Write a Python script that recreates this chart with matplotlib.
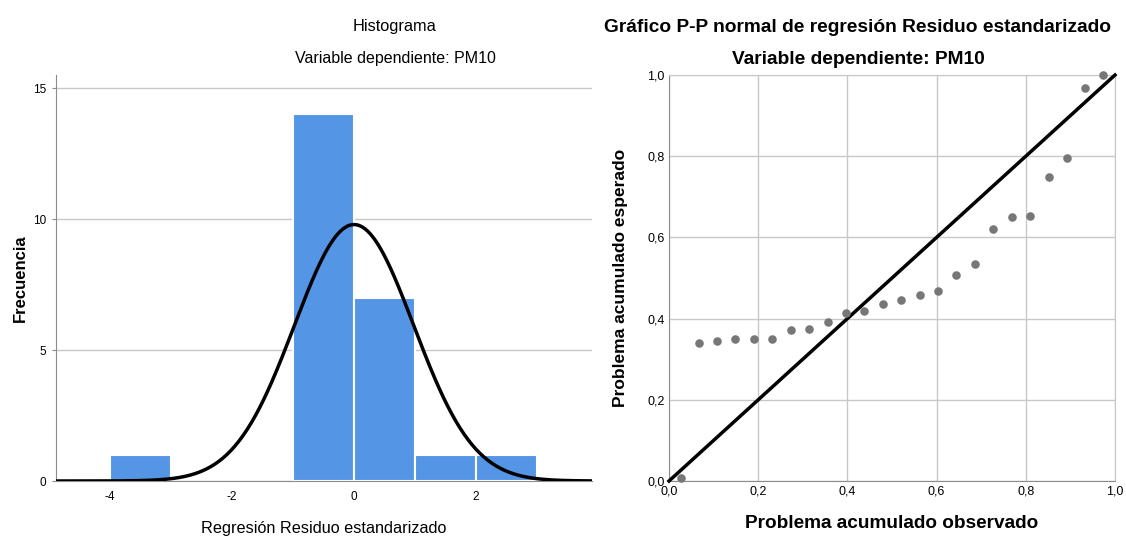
import numpy as np
import matplotlib
matplotlib.use("Agg")
import matplotlib.pyplot as plt

plt.rcParams['font.family'] = ['Liberation Sans', 'DejaVu Sans']
plt.rcParams['axes.unicode_minus'] = False

# --- histograma de residuos ---
bin_left = [-4, -1, 0, 1, 2]
bin_count = [1, 14, 7, 1, 1]
bin_width = 1.0
res_mean = 0.0
res_sd = 0.978
n_obs = 24

# --- gráfico P-P ---
pp_observed = [0.026, 0.067, 0.108, 0.149, 0.191, 0.232, 0.273, 0.314,
               0.356, 0.397, 0.438, 0.479, 0.521, 0.562, 0.603, 0.644,
               0.686, 0.727, 0.768, 0.809, 0.851, 0.892, 0.933, 0.974]
pp_expected = [0.008, 0.341, 0.346, 0.349, 0.349, 0.349, 0.373, 0.375,
               0.391, 0.414, 0.418, 0.435, 0.445, 0.459, 0.467, 0.507,
               0.534, 0.621, 0.650, 0.652, 0.748, 0.795, 0.969, 0.999]

bar_color = '#5595E5'
grid_color = '#c8c8c8'
spine_color = '#8c8c8c'

fig = plt.figure(figsize=(11.26, 5.36), dpi=100)

# histograma
ax1 = fig.add_axes([56 / 1126, 1 - 481 / 536, 536 / 1126, 406 / 536])
ax1.bar(bin_left, bin_count, width=bin_width, align='edge', color=bar_color,
        edgecolor='white', linewidth=1.5, zorder=2)
xs = np.linspace(-4.9, 3.95, 400)
pdf = n_obs * bin_width / (res_sd * np.sqrt(2 * np.pi)) * np.exp(-0.5 * ((xs - res_mean) / res_sd) ** 2)
ax1.plot(xs, pdf, color='black', linewidth=2.5, zorder=3)
ax1.set_xlim(-4.885, 3.9)
ax1.set_ylim(0, 15.5)
ax1.set_yticks([0, 5, 10, 15])
ax1.set_xticks([-4, -2, 0, 2])
ax1.yaxis.grid(True, color=grid_color, linewidth=1, zorder=0)
ax1.set_axisbelow(True)
for s in ['top', 'right']:
    ax1.spines[s].set_visible(False)
for s in ['left', 'bottom']:
    ax1.spines[s].set_color(spine_color)
ax1.tick_params(axis='both', labelsize=8.5, length=3, color=spine_color, pad=4)
ax1.tick_params(axis='x', length=0, pad=7)
ax1.set_ylabel('Frecuencia', fontsize=12, fontweight='bold', labelpad=4)
ax1.set_xlabel('Regresión Residuo estandarizado', fontsize=11.7, labelpad=13)
fig.text(394 / 1126, 1 - 27 / 536, 'Histograma', ha='center', va='center', fontsize=11.8)
fig.text(395 / 1126, 1 - 59 / 536, 'Variable dependiente: PM10', ha='center', va='center',
         fontsize=11.5)

# P-P normal
ax2 = fig.add_axes([669 / 1126, 1 - 481 / 536, 446 / 1126, 406 / 536])
ax2.plot([0, 1], [0, 1], color='black', linewidth=2.5, zorder=3, clip_on=False)
ax2.scatter(pp_observed, pp_expected, s=38, color='#777777', zorder=4, clip_on=False,
            linewidths=0)
ax2.set_xlim(0, 1)
ax2.set_ylim(0, 1)
ticks = [0.0, 0.2, 0.4, 0.6, 0.8, 1.0]
tick_lbls = ['0,0', '0,2', '0,4', '0,6', '0,8', '1,0']
ax2.set_xticks(ticks)
ax2.set_xticklabels(tick_lbls)
ax2.set_yticks(ticks)
ax2.set_yticklabels(tick_lbls)
ax2.grid(True, color=grid_color, linewidth=1, zorder=0)
ax2.set_axisbelow(True)
for s in ['top', 'right']:
    ax2.spines[s].set_color(grid_color)
for s in ['left', 'bottom']:
    ax2.spines[s].set_color(spine_color)
ax2.tick_params(axis='both', labelsize=9, length=0, pad=3)
ax2.set_xlabel('Problema acumulado observado', fontsize=13.7, fontweight='bold', labelpad=13)
ax2.set_ylabel('Problema acumulado esperado', fontsize=12.5, fontweight='bold', labelpad=14)
fig.text(857 / 1126, 1 - 27 / 536, 'Gráfico P-P normal de regresión Residuo estandarizado',
         ha='center', va='center', fontsize=13.8, fontweight='bold')
fig.text(858 / 1126, 1 - 59 / 536, 'Variable dependiente: PM10',
         ha='center', va='center', fontsize=13.8, fontweight='bold')

fig.savefig('out.png', dpi=100)
